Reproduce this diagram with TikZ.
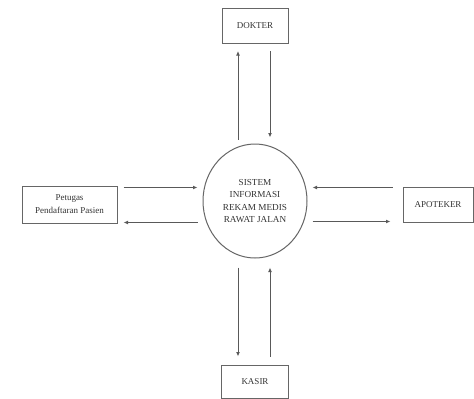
\documentclass[tikz,border=0pt]{standalone}
\usepackage{fontspec}
\setmainfont{Liberation Serif}
\usetikzlibrary{shapes.geometric,arrows.meta,calc}
\begin{document}
\begin{tikzpicture}[x=1pt,y=-1pt,
  box/.style={draw=black!60, line width=1pt, rectangle, inner sep=0pt, align=center,
    text=black!80, font=\fontsize{9}{13}\selectfont},
  proc/.style={draw=black!60, line width=1pt, ellipse, inner sep=0pt, align=center,
    text=black!80, font=\fontsize{9.2}{12.5}\selectfont},
  arr/.style={draw=black!65, line width=1pt, -{Latex[length=4.5pt,width=3.8pt]}}]
\useasboundingbox (0,0) rectangle (474,399);
\node[box, minimum width=66pt, minimum height=35pt] (dokter) at (255,26) {DOKTER};
\node[proc, minimum width=104pt, minimum height=114pt] (sys) at (255,201)
  {SISTEM\\INFORMASI\\REKAM MEDIS\\RAWAT JALAN};
\node[box, minimum width=95pt, minimum height=37pt] (petugas) at (69.5,204.5)
  {Petugas\\Pendaftaran Pasien};
\node[box, minimum width=70pt, minimum height=35pt] (apoteker) at (438,204.5) {APOTEKER};
\node[box, minimum width=67pt, minimum height=33pt] (kasir) at (255,381.5) {KASIR};
% top
\draw[arr] ($(sys.north)+(-17,-4)$) -- ($(dokter.south)+(-17,7)$);
\draw[arr] ($(dokter.south)+(15,7)$) -- ($(sys.north)+(15,-6)$);
% bottom
\draw[arr] ($(sys.south)+(-17,9)$) -- ($(kasir.north)+(-17,-8)$);
\draw[arr] ($(kasir.north)+(15,-8)$) -- ($(sys.south)+(15,9)$);
% left
\draw[arr] ($(petugas.east)+(6,-17)$) -- ($(petugas.east -| sys.west)+(-5,-17)$);
\draw[arr] ($(petugas.east -| sys.west)+(-5,18)$) -- ($(petugas.east)+(6,18)$);
% right
\draw[arr] ($(apoteker.west)+(-10,-17)$) -- ($(apoteker.west -| sys.east)+(5,-17)$);
\draw[arr] ($(apoteker.west -| sys.east)+(5,17)$) -- ($(apoteker.west)+(-12,17)$);
\end{tikzpicture}
\end{document}
